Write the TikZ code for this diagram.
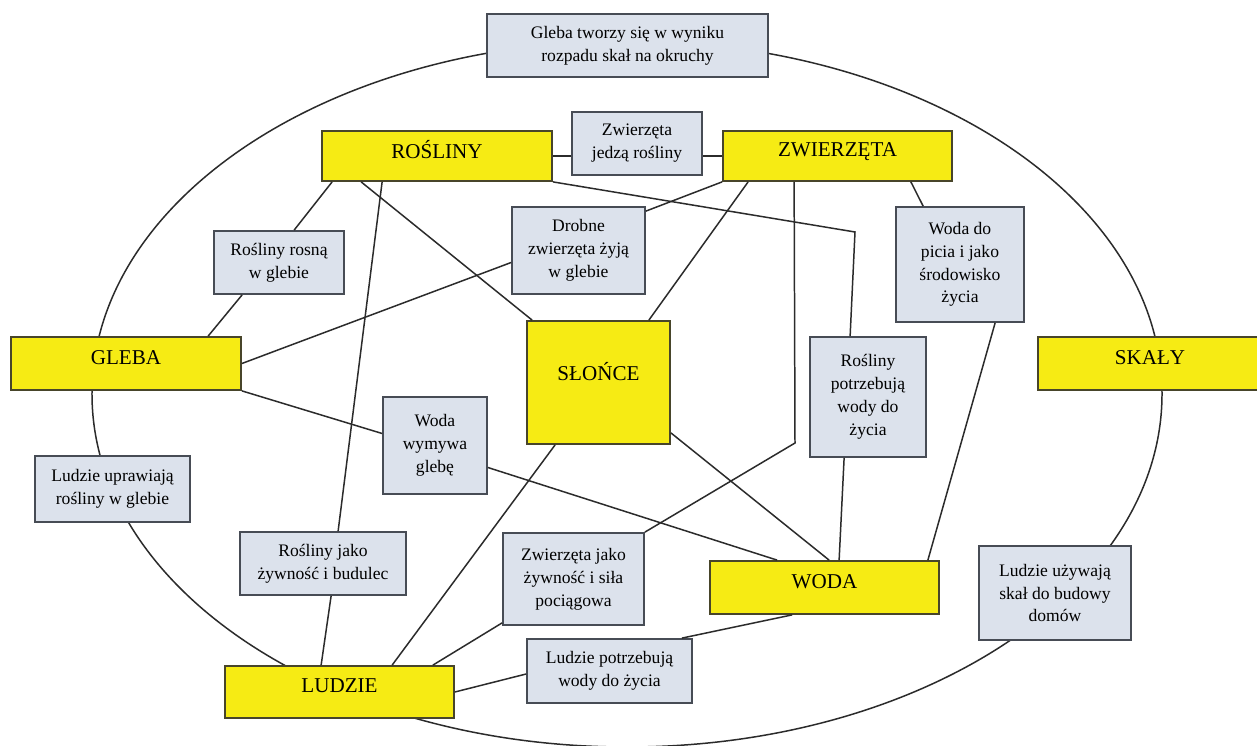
\documentclass[tikz,border=0pt]{standalone}
\usepackage{fontspec}
\setmainfont{Liberation Serif}
\usetikzlibrary{calc}
\definecolor{ConceptFill}{HTML}{F6EB14}
\definecolor{ConceptBorder}{HTML}{48452A}
\definecolor{LinkFill}{HTML}{DCE2EC}
\definecolor{LinkBorder}{HTML}{474C55}
\definecolor{LineGray}{HTML}{2B2B2B}

\begin{document}
\begin{tikzpicture}[x=0.2mm,y=-0.2mm,
  conceptbox/.style={draw=ConceptBorder,line width=1pt,fill=ConceptFill,inner sep=0pt,text depth=2.5mm,font=\fontsize{12}{14}\selectfont},
  linkcard/.style={draw=LinkBorder,line width=1pt,fill=LinkFill,inner sep=0pt,align=center,font=\fontsize{10}{13}\selectfont},
  wire/.style={draw=LineGray,line width=0.85pt}
]
\path[use as bounding box,fill=white] (0,0) rectangle (1257,746);
% ring behind the cards
\draw[wire] (627,394) ellipse [x radius=107mm,y radius=70.6mm];

% main concepts
\node[conceptbox,minimum width=46mm,minimum height=10mm] (rosliny) at (437,156) {ROŚLINY};
\node[conceptbox,minimum width=45.8mm,minimum height=10mm] (zwierzeta) at (837.5,156) {ZWIERZĘTA};
\node[conceptbox,minimum width=46mm,minimum height=10.6mm] (gleba) at (126,363.5) {GLEBA};
\node[conceptbox,minimum width=28.6mm,minimum height=24.6mm,text depth=4.5mm] (slonce) at (598.5,382.5) {SŁOŃCE};
\node[conceptbox,minimum width=44.8mm,minimum height=10.6mm] (skaly) at (1150,363.5) {SKAŁY};
\node[conceptbox,minimum width=45.8mm,minimum height=10.6mm] (woda) at (824.5,587.5) {WODA};
\node[conceptbox,minimum width=45.8mm,minimum height=10.4mm] (ludzie) at (339.5,692) {LUDZIE};

% relation cards
\node[linkcard,minimum width=56.2mm,minimum height=12.6mm] (okruchy) at (627.5,45.5) {Gleba tworzy się w wyniku\\rozpadu skał na okruchy};
\node[linkcard,minimum width=26mm,minimum height=12.6mm] (jedza) at (637,143.5) {Zwierzęta\\jedzą rośliny};
\node[linkcard,minimum width=26mm,minimum height=12.6mm] (rosna) at (279,262.5) {Rośliny rosną\\w glebie};
\node[linkcard,minimum width=26.6mm,minimum height=17.4mm] (drobne) at (578.5,250.5) {Drobne\\zwierzęta żyją\\w glebie};
\node[linkcard,minimum width=25.6mm,minimum height=23mm] (picie) at (960,264.5) {Woda do\\picia i jako\\środowisko\\życia};
\node[linkcard,minimum width=23.2mm,minimum height=24mm] (potrzeb) at (868,397) {Rośliny\\potrzebują\\wody do\\życia};
\node[linkcard,minimum width=20.8mm,minimum height=19.4mm] (wymywa) at (435,445.5) {Woda\\wymywa\\glebę};
\node[linkcard,minimum width=31mm,minimum height=13.2mm] (uprawiaja) at (112.5,489) {Ludzie uprawiają\\rośliny w glebie};
\node[linkcard,minimum width=33.2mm,minimum height=12.6mm] (jakorosl) at (323,563.5) {Rośliny jako\\żywność i budulec};
\node[linkcard,minimum width=28.2mm,minimum height=18.4mm] (jakozw) at (573.5,579) {Zwierzęta jako\\żywność i siła\\pociągowa};
\node[linkcard,minimum width=30.4mm,minimum height=18.8mm] (budowa) at (1055,593) {Ludzie używają\\skał do budowy\\domów};
\node[linkcard,minimum width=33mm,minimum height=12.8mm] (pije) at (609.5,671) {Ludzie potrzebują\\wody do życia};

% connectors
\draw[wire] (rosliny.east) -- (rosliny.east -| jedza.west);
\draw[wire] (zwierzeta.west) -- (zwierzeta.west -| jedza.east);
\draw[wire] ($(rosliny.south west)+(11,0)$) -- ($(rosna.north west)+(81,0)$);
\draw[wire] ($(rosna.south west)+(29,0)$) -- ($(gleba.north west)+(198,0)$);
\draw[wire] (gleba.east) -- ($(drobne.west)+(0,12)$);
\draw[wire] ($(drobne.north east)+(0,5)$) -- (zwierzeta.south west);
\draw[wire] ($(rosliny.south west)+(40,0)$) -- ($(slonce.north west)+(6,0)$);
\draw[wire] ($(rosliny.south west)+(61,0)$) -- ($(jakorosl.north west)+(99,0)$);
\draw[wire] ($(jakorosl.south west)+(92,0)$) -- ($(ludzie.north west)+(97,0)$);
\coordinate (kinkA) at (855,232);
\draw[wire] (rosliny.south east) -- (kinkA) -- ($(potrzeb.north west)+(41,0)$);
\draw[wire] ($(zwierzeta.south west)+(26,0)$) -- ($(slonce.north east)+(-22,0)$);
\coordinate (kinkB) at (795,443);
\draw[wire] ($(zwierzeta.south west)+(72,0)$) -- (kinkB) -- (jakozw.north east);
\draw[wire] ($(zwierzeta.south east)+(-42,0)$) -- ($(picie.north west)+(28,0)$);
\draw[wire] ($(picie.south west)+(100,0)$) -- ($(woda.north east)+(-12,0)$);
\draw[wire] ($(potrzeb.south west)+(35,0)$) -- ($(woda.north west)+(130,0)$);
\draw[wire] ($(slonce.south east)+(0,-12)$) -- ($(woda.north west)+(120,0)$);
\draw[wire] (gleba.south east) -- ($(wymywa.west)+(0,-12)$);
\draw[wire] ($(wymywa.east)+(0,22)$) -- ($(woda.north west)+(68,0)$);
\draw[wire] ($(slonce.south west)+(29,0)$) -- ($(ludzie.north west)+(168,0)$);
\draw[wire] ($(jakozw.south west)+(0,-3)$) -- ($(ludzie.north east)+(-22,0)$);
\draw[wire] (ludzie.east) -- ($(pije.west)+(0,3)$);
\draw[wire] ($(pije.north east)+(-11,0)$) -- ($(woda.south west)+(83,0)$);
\end{tikzpicture}
\end{document}
